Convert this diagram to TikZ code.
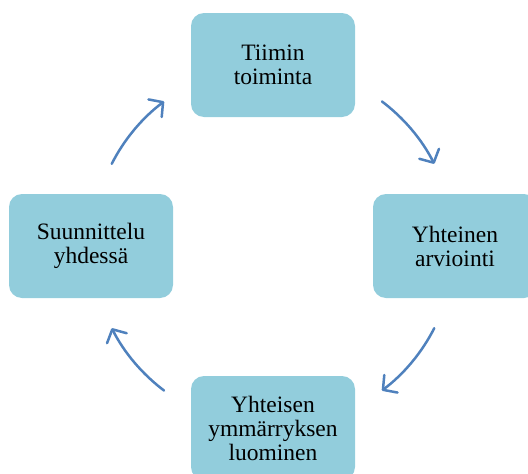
\documentclass[tikz,border=0pt]{standalone}
\usepackage{fontspec}
\setmainfont{Liberation Serif}
\usetikzlibrary{arrows.meta}
\definecolor{boxfill}{HTML}{92CDDC}
\definecolor{cyclearrow}{HTML}{4F81BD}
\begin{document}
\begin{tikzpicture}[x=1pt,y=-1pt,
  stage/.style={fill=boxfill, rounded corners=13pt, minimum width=164pt,
    minimum height=104pt, align=center, inner sep=0pt, text=black,
    font=\fontsize{23.5}{24}\selectfont},
  cycarrow/.style={draw=cyclearrow, line width=2.5pt, line cap=round,
    -{Straight Barb[length=10pt,width=22pt,round]}}]
\useasboundingbox (0,0) rectangle (528,474);
\coordinate (c) at (273,246);
\begin{scope}
  \clip (0,0) rectangle (528,474);
  \node[stage] (top)    at (273,65)  {Tiimin\\toiminta};
  \node[stage] (right)  at (455,246) {Yhteinen\\arviointi};
  \node[stage] (bottom) at (273,428) {Yhteisen\\ymmärryksen\\luominen};
  \node[stage] (left)   at (91,246)  {Suunnittelu\\yhdessä};
\end{scope}
% cycle arrows on a circle round the centre
\draw[cycarrow] ([shift={(53:181pt)}]c)   arc[start angle=53,   end angle=27,   radius=181pt];
\draw[cycarrow] ([shift={(-27:181pt)}]c)  arc[start angle=-27,  end angle=-53,  radius=181pt];
\draw[cycarrow] ([shift={(-127:181pt)}]c) arc[start angle=-127, end angle=-153, radius=181pt];
\draw[cycarrow] ([shift={(153:181pt)}]c)  arc[start angle=153,  end angle=127,  radius=181pt];
\end{tikzpicture}
\end{document}
